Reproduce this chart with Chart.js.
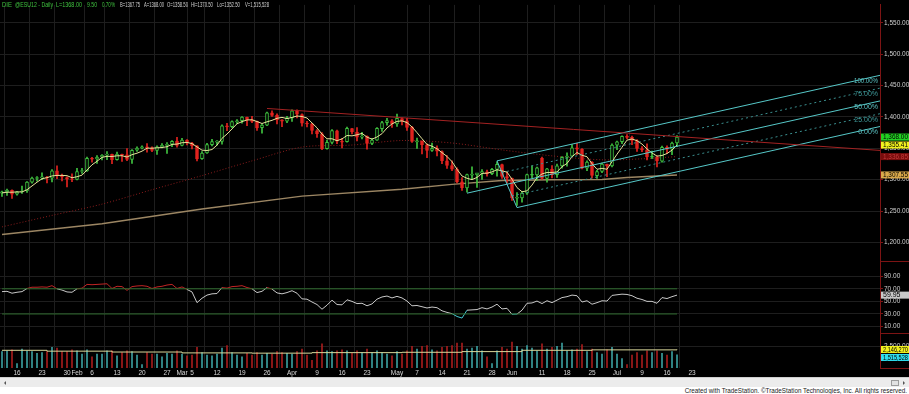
<!DOCTYPE html>
<html>
<head>
<meta charset="utf-8">
<script src="https://cdn.jsdelivr.net/npm/chart.js@4.4.1/dist/chart.umd.min.js"></script>
<style>
  body { margin: 0; width: 909px; height: 394px; overflow: hidden; background: #fff; font-family: "Liberation Sans", Arial, sans-serif; }
  #wrap { position: absolute; left: 0; top: 0; width: 909px; height: 377px; background: #000; }
  #scroll { position: absolute; left: 0; top: 377px; width: 909px; height: 10px; background: #ececec; border-top: 1px solid #cfcfcf; box-sizing: border-box; }
  #scroll .la { position: absolute; left: 4px; top: 3px; width: 0; height: 0; border-top: 2px solid transparent; border-bottom: 2px solid transparent; border-right: 2px solid #555; }
  #scroll .thumb { position: absolute; left: 891px; top: 2px; width: 8px; height: 6px; background: #e2e2e2; border: 1px solid #9c9c9c; box-sizing: border-box; }
  #scroll .ra { position: absolute; left: 903px; top: 3px; width: 0; height: 0; border-top: 2px solid transparent; border-bottom: 2px solid transparent; border-left: 2px solid #555; }
  #foot { position: absolute; right: 2px; top: 387px; font-size: 6.3px; line-height: 7px; color: #222; white-space: nowrap; }
</style>
</head>
<body>
<div id="wrap"><canvas id="chart" width="909" height="377"></canvas></div>
<div id="scroll"><div class="la"></div><div class="thumb"></div><div class="ra"></div></div>
<div id="foot">Created with TradeStation. &copy;TradeStation Technologies, Inc. All rights reserved.</div>
<script>
// @ESU12 daily, bar index 0 = Jan 11 2012, one slot per weekday
const open = [1278.5,1280.5,1283,1277,1280.5,1282,1296,1302,1303.5,1304,
  1302.5,1314,1306,1303.5,1301.5,1300.5,1313,1314,1333.5,1333,
  1336,1339,1340.5,1332,1340.5,1339.5,1332.5,1347,1350.25,1352.5,
  1351,1346.5,1352.5,1354.5,1356.5,1361.5,1354.5,1363,1358.5,1354,
  1333.5,1342.5,1356,1360.5,1361,1386,1384.5,1392.5,1394,1399.5,
  1395.5,1393,1383,1387,1406.5,1402.5,1395.5,1393.5,1398.5,1410,
  1404,1390,1389,1378,1373,1349.5,1359.5,1378,1361,1360.5,
  1381.5,1376,1368,1369,1358,1363,1381.5,1391,1394,1389,
  1397.5,1394,1383.5,1361,1361.5,1355.5,1346.5,1350,1345,1330,
  1322.5,1316.5,1296.5,1287,1308,1308,1310.5,1312.5,1309.75,1316.5,
  1324,1305,1302,1271,1271,1278.5,1308,1307.5,1334,1302,
  1317,1308,1322,1335.5,1337.5,1351,1348.5,1318.5,1328,1306.5,
  1313,1324.5,1322,1355,1360.5,1369,1367.5,1362.5,1349.5,1347.5,
  1336.5,1336.5,1329.5,1351.5,1348.5,1358.5];
const high = [1282,1285,1284,1281.5,1290,1297,1304,1305,1311,1305.5,
  1316,1322,1309,1304.5,1309.5,1318,1318,1336,1335.5,1338.5,
  1340,1345,1341,1344,1341,1349.5,1348,1352.5,1354,1357.5,
  1352.5,1354,1357.5,1359,1362.5,1367.5,1366,1364,1359.5,1354.5,
  1345,1358,1364.5,1362.5,1387.5,1390,1394,1396,1400.5,1400,
  1401,1393.5,1388.5,1408,1410,1405,1396,1401,1411.5,1411.5,
  1405,1393,1390,1380,1375,1363,1380,1379,1366,1384,
  1382,1383,1375.5,1370,1366,1383,1393,1398,1396,1404.5,
  1398.5,1398,1385,1366.5,1362,1357,1358.5,1354,1346,1338.5,
  1330,1319,1303.5,1309,1320.5,1309.5,1316,1315.5,1318,1328.5,
  1325,1312.5,1302.5,1279.5,1281,1309,1322,1320,1336,1318,
  1322.5,1325,1337,1343,1356,1358,1349.5,1330,1329,1315,
  1326.5,1325,1357,1361.5,1370,1372,1369.5,1364,1353,1357,
  1345.5,1338,1353.5,1354,1360,1370.5];
const low = [1273.5,1275,1270,1275.5,1278,1279.5,1294.5,1297.5,1300,1295,
  1296.5,1301.5,1298,1288.5,1297,1299.5,1310,1313,1328,1326,
  1331.5,1332,1325.5,1331,1329,1330.5,1326,1345,1349,1344,
  1344.5,1340.5,1350.5,1342,1352.5,1352,1354,1355.5,1349,1330,
  1332.5,1342,1354,1355,1356.5,1378,1383,1389.5,1390,1386,
  1391,1378.5,1374,1386,1401,1389,1384.5,1391,1393,1398.5,
  1385.5,1384,1373,1367.5,1348,1348.5,1357,1357.5,1350.5,1360,
  1373,1362,1365,1348.5,1356,1362.5,1377,1387,1383.5,1385,
  1387.5,1378.5,1359.5,1350,1341,1335,1345,1338,1325.5,1318,
  1314.5,1295,1283,1280,1301.5,1287.5,1300.5,1305.5,1308,1305.5,
  1302,1295,1267,1259,1264,1276.5,1303,1299,1300.5,1296,
  1303,1303.5,1318.5,1321.5,1336.5,1340,1317,1314.5,1302.5,1302,
  1311,1305,1320.5,1348,1357.5,1365,1356,1345,1344.5,1331.5,
  1333.5,1320.5,1328,1342,1340,1352.5];
const close = [1280.5,1283.5,1277,1280.5,1281.75,1296,1302.5,1303.5,1304,1302.75,
  1314,1306.5,1304.25,1301,1300.5,1313,1314.5,1334,1333.25,1336,
  1339,1341,1331.75,1340.75,1339.5,1332.25,1347,1350.25,1352.5,1351.25,
  1346.75,1352.5,1354.75,1356.5,1361.25,1354.75,1363,1358.5,1354.25,1333.25,
  1342.5,1356,1360.75,1361,1386,1384.25,1392.5,1394,1399.75,1395.5,
  1393,1382.75,1387,1406.5,1402.5,1395.5,1393.25,1398.5,1410,1404.5,
  1390,1389,1378.5,1373.25,1349.5,1359.75,1378.5,1361.25,1360.5,1381.75,
  1376,1368,1369.5,1358,1363,1381.75,1391,1394.25,1389,1397.75,
  1394.25,1383.5,1361,1361.5,1355.75,1346.5,1350,1345.5,1330.25,1322.75,
  1316.75,1296.75,1287.25,1308,1308.5,1310.75,1312.75,1309.75,1316.5,1324.5,
  1305.25,1302.25,1271,1271.25,1278.5,1308,1308,1318.75,1302,1317.25,
  1308,1322,1335.75,1337.75,1351,1348.75,1318.5,1328,1306.75,1313,
  1324.75,1322,1355.25,1360.5,1369,1367.5,1362.5,1349.75,1347.5,1336.5,
  1336.5,1329.75,1351.75,1348.75,1358.5,1368];

// short moving average (yellow)
const maFast = [1279,1280,1280,1280.5,1280.5,1284,1290,1296,1301.5,1303.2,
  1306,1306.8,1306.9,1306.4,1303.1,1304.7,1307.25,1315.5,1323.7,1329.4,
  1335.6,1337.3,1337,1338.1,1338.25,1336.1,1339.9,1342.25,1345.5,1350.25,
  1350.2,1350.75,1351.3,1352.6,1356.25,1356.8,1358.9,1359.4,1357.6,1352.25,
  1347.1,1346.5,1348.1,1355.1,1366,1372.8,1380.9,1389.2,1392.6,1395.3,
  1395.6,1392.75,1389.6,1392.3,1394.7,1397.9,1399.4,1397.4,1399.3,1401.6,
  1400.75,1398.4,1390.5,1382.7,1372.6,1365.25,1365.25,1362.25,1365,1370.5,
  1369.9,1371.6,1373.8,1367.9,1364.6,1368.1,1373.4,1382.5,1389,1393,
  1393.8,1391.1,1384.1,1375.1,1365.4,1356.2,1353.4,1349.4,1343.1,1337.1,
  1328.8,1316.6,1305.9,1302.2,1300.1,1303.6,1310,1310.4,1312.4,1315.9,
  1314,1312.1,1300.75,1287.4,1280.75,1282.2,1291.4,1303.3,1309.2,1311.5,
  1311.5,1312.3,1320.75,1325.9,1336.6,1343.3,1339,1336.6,1325.5,1316.6,
  1318.1,1316.6,1328.75,1340.6,1351.75,1363.1,1364.9,1362.2,1356.8,1349.1,
  1342.6,1337.6,1338.6,1341.7,1347.2,1355.41];

// slower averages (bar index, price)
const ma50Idx = [0, 10, 20, 30, 40, 50, 60, 70, 80, 90, 100, 110, 120, 128, 135];
const ma50Val = [1224.7, 1243, 1261, 1284, 1306.5, 1330, 1352, 1355.3, 1362.5, 1358.5, 1347.5, 1338, 1331.7, 1333.3, 1336.85];
const ma200Idx = [0, 20, 40, 60, 80, 90, 100, 110, 120, 125, 135];
const ma200Val = [1212.5, 1229.7, 1253.3, 1273.7, 1284.7, 1292.5, 1298.8, 1300, 1300.4, 1303.5, 1307.55];

// drawn objects
const trendIdx = [53, 175.6];
const trendVal = [1413.6, 1346.7];
const pfIdx = [93, 99, 103];          // pitchfork anchors
const pfVal = [1278.5, 1330, 1255.5];
const pfLevels = [0, 25, 50, 75, 100];

const rsi = [65.5,66,63,64.5,65.5,70.5,72.5,72.5,73,72.5,
  75,70,68,65,64.5,70,71,77,76.5,77,
  77.5,78,70.5,74,73.5,67.5,73.5,74.5,75,74,
  70.5,73,74,76,77,70.5,73,69,65,48,
  55,60,62,62.5,72,71,73.5,74,75,72,
  70,64,66,72,69.5,63.5,62,64,67,63,
  54,53.5,49,45,37.5,44,52,45,44.5,52.5,
  50,46.5,47,43,46,53.5,57,58.5,55.5,58,
  55.5,50.5,43,43.5,41.5,39.5,41,40,35,32.5,
  30.5,26,23.5,36,36.5,37,40,38,41,45.5,
  38,39,29.5,29.8,36,47,47.5,50.5,46.5,51,
  48,52,56,57.5,60,59,49,51,45.5,48,
  51,50.5,59.5,60.5,61.5,61,59,55,53,50,
  50,47,56,54.5,57.5,59.95];
const rsiHi = 70, rsiLo = 30;

const volume = [1900000,2000000,2100000,500000,2200000,2000000,1900000,1700000,1800000,1900000,
  2400000,2300000,1900000,1900000,2100000,2000000,1600000,2100000,1300000,1600000,
  1600000,2000000,2000000,1400000,1800000,2000000,1900000,1500000,400000,1800000,
  1600000,1600000,1300000,1700000,1600000,2000000,1600000,1400000,1500000,2400000,
  1800000,1500000,1400000,1600000,2300000,2600000,1800000,1500000,1300000,1700000,
  1500000,1800000,1500000,1700000,1600000,1900000,1800000,1700000,1600000,1900000,
  2200000,1500000,900000,2000000,2800000,2000000,1900000,2000000,2100000,2000000,
  1700000,2000000,1800000,2200000,1800000,2000000,1800000,1600000,1400000,1900000,
  1600000,2000000,2500000,2200000,2500000,2600000,2100000,2000000,2400000,2500000,
  2600000,2900000,2900000,2200000,2300000,2500000,2000000,1300000,500000,2000000,
  2400000,2200000,3000000,2500000,2200000,2600000,2300000,2000000,2800000,2200000,
  2400000,2500000,2900000,2000000,2100000,2200000,2700000,1900000,2200000,1800000,
  1600000,2100000,2400000,1600000,1100000,400000,1500000,1800000,1500000,2000000,
  1800000,2000000,1700000,1500000,1900000,1515528];
const avgVolIdx = [0, 9, 22, 36, 50, 62, 80, 92, 104, 118, 135];
const avgVolVal = [2050000, 1950000, 1850000, 1750000, 1720000, 1780000, 1820000, 1900000, 2050000, 2100000, 2146270];

const priceTicks = [1200, 1250, 1300, 1350, 1400, 1450, 1500, 1550];
const rsiTicks = [10, 30, 50, 70, 90];
const volTicks = [2500000];
const tickIdx = [3, 8, 13, 15, 18, 23, 28, 33, 36, 38, 43, 48, 53, 58, 63, 68, 73, 79, 83, 88, 93, 98, 102, 108, 113, 118, 123, 128, 133, 138];
const tickText = ['16', '23', '30', 'Feb', '6', '13', '20', '27', 'Mar', '5', '12', '19', '26', 'Apr', '9', '16', '23', 'May', '7', '14', '21', '28', 'Jun', '11', '18', '25', 'Jul', '9', '16', '23'];

const X_MIN = -0.4, X_MAX = 175.6;
const GREEN = '#3fc23f', RED = '#e3231f', TEAL = '#3a9d9d', GRID = '#1e1e1e', AXIS_RED = '#7d1414';
const FONT = 'Liberation Sans';
Chart.defaults.font.family = FONT;

const n = close.length;
const idx = close.map((_, i) => i);
const upDay = idx.map(i => (i === 0 ? close[i] >= open[i] : close[i] >= close[i - 1]));
const barColor = idx.map(i => (upDay[i] ? GREEN : RED));
const xy = (xs, ys) => xs.map((x, i) => ({ x, y: ys[i] }));
const fmt = (v, d) => v.toLocaleString('en-US', { minimumFractionDigits: d, maximumFractionDigits: d });

// pitchfork lines
const [i1, i2, i3] = pfIdx, [v1, v2, v3] = pfVal;
const midI = (i2 + i3) / 2, midV = (v2 + v3) / 2;
const pfSlope = (midV - v1) / (midI - i1);
const pfLines = pfLevels.map(p => {
  const f = p / 100;
  let sx = i3 + f * (i2 - i3), sy = v3 + f * (v2 - v3);
  if (p === 50) { sx = i1; sy = v1; }
  return { p, data: [{ x: sx, y: sy }, { x: X_MAX, y: sy + pfSlope * (X_MAX - sx) }] };
});

const line = (data, color, extra) => Object.assign({
  type: 'line', data, borderColor: color, borderWidth: 1, pointRadius: 0, fill: false, yAxisID: 'y', order: 0
}, extra);

const datasets = [
  // candles
  {
    type: 'bar', data: idx.map(i => ({ x: i, y: [low[i], high[i]] })), backgroundColor: barColor,
    barThickness: 1, grouped: false, yAxisID: 'y', order: 3
  },
  {
    type: 'bar',
    data: idx.map(i => {
      const a = Math.min(open[i], close[i]), b = Math.max(open[i], close[i]);
      return { x: i, y: b - a < 1 ? [a - 0.6, b + 0.6] : [a, b] };
    }),
    backgroundColor: idx.map(i => (close[i] > open[i] ? '#000' : barColor[i])),
    borderColor: barColor, borderWidth: 1, borderSkipped: false,
    barThickness: 3, grouped: false, yAxisID: 'y', order: 2
  },
  line(xy(ma200Idx, ma200Val), '#9c8663', { borderWidth: 1.4, order: 4 }),
  line(xy(ma50Idx, ma50Val), '#8a1c1c', { borderDash: [1, 2], tension: 0.3, order: 4 }),
  line(xy(idx, maFast), '#e6e49a', { order: 1 }),
  line(xy(trendIdx, trendVal), '#a32222', { order: 0 }),
  line([{ x: i2, y: v2 }, { x: i3, y: v3 }], '#56c8c8'),
  ...pfLines.map(l => line(l.data, l.p % 50 === 0 ? '#56c8c8' : '#3a8e8e', l.p % 50 === 0 ? {} : { borderDash: [2, 3] })),
  // RSI pane
  line(idx.map(i => ({ x: i, y: rsiHi })), '#2d6a2d', { yAxisID: 'yr' }),
  line(idx.map(i => ({ x: i, y: rsiLo })), '#2d6a2d', { yAxisID: 'yr' }),
  line(xy(idx, rsi), '#c8c8c8', {
    yAxisID: 'yr',
    segment: {
      borderColor: c => {
        const m = (c.p0.parsed.y + c.p1.parsed.y) / 2;
        return m > rsiHi ? '#c02424' : m < rsiLo ? '#44c8d0' : '#c8c8c8';
      }
    }
  }),
  // volume pane
  {
    type: 'bar', data: xy(idx, volume), backgroundColor: idx.map(i => (upDay[i] ? TEAL : '#a51c1c')),
    barThickness: 1, grouped: false, yAxisID: 'yv', order: 2
  },
  line(xy(avgVolIdx, avgVolVal), '#d9d79a', { yAxisID: 'yv', stepped: true })
];

const rightAxis = (extra) => Object.assign({
  type: 'linear', position: 'right', stack: 'panes', offset: false,
  afterFit: s => { s.width = 29; },
  grid: { color: GRID, tickColor: AXIS_RED, tickLength: 3 },
  border: { color: AXIS_RED },
  ticks: { color: '#cfcfcf', font: { size: 6.5 }, padding: 1, autoSkip: false }
}, extra);

const overlay = {
  id: 'overlay',
  beforeDraw(chart) {
    const { ctx } = chart;
    ctx.save();
    ctx.fillStyle = '#000';
    ctx.fillRect(0, 0, chart.width, chart.height);
    ctx.restore();
  },
  afterDraw(chart) {
    const { ctx, scales } = chart;
    const axisX = scales.y.left;
    ctx.save();
    // separators in the axis column
    ctx.strokeStyle = AXIS_RED;
    ctx.lineWidth = 1;
    [scales.y.bottom, scales.yr.bottom, scales.yv.bottom].forEach(yb => {
      ctx.beginPath();
      ctx.moveTo(axisX, Math.round(yb) + 0.5);
      ctx.lineTo(chart.width, Math.round(yb) + 0.5);
      ctx.stroke();
    });

    // header line
    ctx.textBaseline = 'middle';
    ctx.font = '7px ' + FONT;
    const head = [
      ['DIE', 2, 10, GREEN], ['@ESU12 - Daily', 15, 38, GREEN], ['L=1368.00', 56, 26, GREEN],
      ['9.50', 87, 10, GREEN], ['0.70%', 102, 13, GREEN], ['B=1367.75', 120, 20, '#d0d0d0'],
      ['A=1368.00', 144, 20, '#d0d0d0'], ['O=1358.50', 167, 21, '#d0d0d0'], ['Hi=1370.50', 191, 22, '#d0d0d0'],
      ['Lo=1352.50', 217, 23, '#d0d0d0'], ['V=1,515,528', 245, 24, '#d0d0d0']
    ];
    head.forEach(([t, x, w, c]) => { ctx.fillStyle = c; ctx.fillText(t, x, 5.5, w); });

    // pitchfork percent labels
    ctx.textAlign = 'right';
    pfLines.forEach(l => {
      const yEnd = scales.y.getPixelForValue(l.data[1].y);
      ctx.fillStyle = l.p % 50 === 0 ? '#5cc4c4' : '#3f9a9a';
      ctx.fillText(fmt(l.p, 2) + '%', axisX - 2, yEnd + 6, 24);
    });

    // last-value boxes
    ctx.textAlign = 'left';
    const boxes = (scale, list) => {
      let prev = -Infinity;
      list.forEach(b => {
        let top = scale.getPixelForValue(b.v) - 3.5;
        if (top < prev) top = prev;
        ctx.fillStyle = b.bg;
        ctx.fillRect(axisX + 1, top, chart.width - axisX - 1, 7);
        ctx.fillStyle = b.fg;
        ctx.fillText(b.t, axisX + 3, top + 3.8, 25);
        prev = top + 8;
      });
    };
    const last = n - 1;
    boxes(scales.y, [
      { v: close[last], t: fmt(close[last], 2), bg: '#22d022', fg: '#000' },
      { v: maFast[last], t: fmt(maFast[last], 2), bg: '#f2f21e', fg: '#000' },
      { v: ma50Val[ma50Val.length - 1], t: fmt(ma50Val[ma50Val.length - 1], 2), bg: '#7a0c0c', fg: '#c23a3a' },
      { v: ma200Val[ma200Val.length - 1], t: fmt(ma200Val[ma200Val.length - 1], 2), bg: '#d9a84a', fg: '#000' }
    ]);
    boxes(scales.yr, [{ v: rsi[last], t: fmt(rsi[last], 2), bg: '#c8c8c8', fg: '#000' }]);
    boxes(scales.yv, [
      { v: avgVolVal[avgVolVal.length - 1], t: fmt(avgVolVal[avgVolVal.length - 1], 0), bg: '#f2f21e', fg: '#000' },
      { v: volume[last], t: fmt(volume[last], 0), bg: '#2fe0f0', fg: '#000' }
    ]);
    ctx.restore();
  }
};

new Chart(document.getElementById('chart'), {
  type: 'bar',
  data: { datasets },
  options: {
    responsive: false,
    animation: false,
    events: [],
    layout: { padding: 0 },
    plugins: { legend: { display: false }, tooltip: { enabled: false } },
    scales: {
      x: {
        type: 'linear', min: X_MIN, max: X_MAX, offset: false, position: 'bottom',
        afterBuildTicks: s => { s.ticks = tickIdx.map(v => ({ value: v })); },
        afterFit: s => { s.height = 9; },
        ticks: {
          color: '#d8d8d8', font: { size: 6.5 }, padding: 1, maxRotation: 0, autoSkip: false,
          callback: v => tickText[tickIdx.indexOf(v)]
        },
        grid: { color: c => ((c.tick && (c.tick.value - 3) % 5 === 0) ? GRID : 'rgba(0,0,0,0)'), drawTicks: false },
        border: { display: false }
      },
      y: rightAxis({
        stackWeight: 260, min: 1169.6, max: 1578.8,
        afterBuildTicks: s => { s.ticks = priceTicks.map(v => ({ value: v })); },
        ticks: { color: '#cfcfcf', font: { size: 6.5 }, padding: 1, autoSkip: false, callback: v => fmt(v, 2) }
      }),
      yr: rightAxis({
        stackWeight: 73, min: -1, max: 113.5,
        afterBuildTicks: s => { s.ticks = rsiTicks.map(v => ({ value: v })); },
        ticks: { color: '#cfcfcf', font: { size: 6.5 }, padding: 1, autoSkip: false, callback: v => fmt(v, 2) }
      }),
      yv: rightAxis({
        stackWeight: 35, min: 0, max: 4000000,
        afterBuildTicks: s => { s.ticks = volTicks.map(v => ({ value: v })); },
        ticks: { color: '#cfcfcf', font: { size: 6.5 }, padding: 1, autoSkip: false, callback: v => fmt(v, 0) }
      })
    }
  },
  plugins: [overlay]
});
</script>
</body>
</html>
